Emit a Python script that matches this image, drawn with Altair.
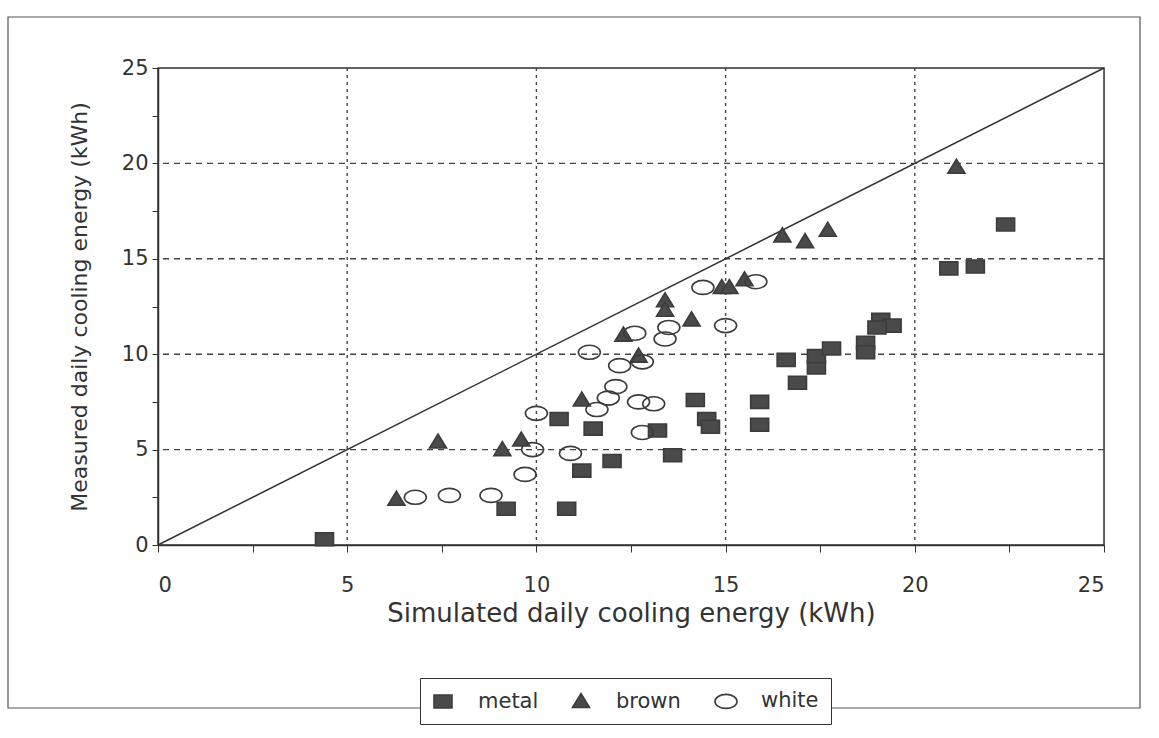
import altair as alt
import pandas as pd

# ---- data ----
metal_x = [4.4, 9.2, 10.8, 10.6, 11.5, 11.2, 12.0, 13.2, 13.6, 14.2, 14.5, 14.6, 15.9, 15.9,
           16.6, 16.9, 17.4, 17.4, 17.8, 18.7, 18.7, 19.1, 19.4, 19.0, 20.9, 21.6, 22.4]
metal_y = [0.3, 1.9, 1.9, 6.6, 6.1, 3.9, 4.4, 6.0, 4.7, 7.6, 6.6, 6.2, 7.5, 6.3,
           9.7, 8.5, 9.3, 9.9, 10.3, 10.6, 10.1, 11.8, 11.5, 11.4, 14.5, 14.6, 16.8]

brown_x = [6.3, 7.4, 9.1, 9.6, 11.2, 12.7, 12.3, 13.4, 13.4, 14.1, 14.9, 15.1, 15.5,
           16.5, 17.1, 17.7, 21.1]
brown_y = [2.4, 5.4, 5.0, 5.5, 7.6, 9.9, 11.0, 12.8, 12.3, 11.8, 13.5, 13.5, 13.9,
           16.2, 15.9, 16.5, 19.8]

white_x = [6.8, 7.7, 8.8, 9.7, 9.9, 10.9, 10.0, 11.6, 11.9, 12.1, 12.2, 12.8, 11.4,
           12.7, 13.1, 12.8, 13.5, 13.4, 12.6, 14.4, 15.8, 15.0]
white_y = [2.5, 2.6, 2.6, 3.7, 5.0, 4.8, 6.9, 7.1, 7.7, 8.3, 9.4, 9.6, 10.1,
           7.5, 7.4, 5.9, 11.4, 10.8, 11.1, 13.5, 13.8, 11.5]

series = ["metal", "brown", "white"]
tick_values = [0, 2.5, 5, 7.5, 10, 12.5, 15, 17.5, 20, 22.5, 25]
grid_values = [5, 10, 15, 20]
diag_x = [0, 25]
diag_y = [0, 25]
frame_lo = [0]
frame_hi = [25]

rows = []
for name, xs, ys in (("metal", metal_x, metal_y), ("brown", brown_x, brown_y), ("white", white_x, white_y)):
    rows += [{"sim": a, "meas": b, "roof": name} for a, b in zip(xs, ys)]
pts = pd.DataFrame(rows)

FONT = "DejaVu Sans"
INK = "#333333"
DOM = [0, 25]
XT = "Simulated daily cooling energy (kWh)"
YT = "Measured daily cooling energy (kWh)"

sq = "M-0.9,-0.65H0.9V0.65H-0.9Z"
tri = "M-0.85,0.6L0.85,0.6L0,-0.8Z"
ell = "M-1.1,0A1.1,0.7,0,1,0,1.1,0A1.1,0.7,0,1,0,-1.1,0Z"

xscale = alt.Scale(domain=DOM, nice=False, zero=False)
yscale = alt.Scale(domain=DOM, nice=False, zero=False)

legend = alt.Legend(
    title=None, orient="none", legendX=262, legendY=610, direction="horizontal",
    labelFont=FONT, labelFontSize=21, labelColor=INK, symbolSize=400,
    symbolStrokeWidth=1.6, strokeColor=INK,
    fillColor="white", padding=12, columnPadding=30, labelOffset=24,
)

x_axis = alt.Axis(
    values=tick_values, labelExpr="datum.value % 5 == 0 ? datum.label : ''",
    grid=False, tickSize=7, tickColor=INK, domainColor=INK, domainWidth=1.5, labelPadding=22,
    labelFont=FONT, labelFontSize=21, labelColor=INK,
    title=XT, titleFont=FONT, titleFontSize=26,
    titleFontWeight="normal", titleColor=INK, titlePadding=5,
)
y_axis = alt.Axis(
    values=tick_values, labelExpr="datum.value % 5 == 0 ? datum.label : ''",
    grid=False, tickSize=6, tickColor=INK, domainColor=INK, domainWidth=1.5, labelPadding=4,
    labelFont=FONT, labelFontSize=21, labelColor=INK,
    title=YT, titleFont=FONT, titleFontSize=22,
    titleFontWeight="normal", titleColor=INK, titlePadding=30,
)

outer = alt.Chart(pd.DataFrame({"k": [0]})).mark_rect(
    fillOpacity=0, stroke="#555555", strokeWidth=1.2
).encode(x=alt.value(-150), x2=alt.value(982), y=alt.value(-51), y2=alt.value(640))

plotbox = alt.Chart(pd.DataFrame({"lo": frame_lo, "hi": frame_hi})).mark_rect(
    fillOpacity=0, stroke=INK, strokeWidth=1.5
).encode(
    x=alt.X("lo:Q", scale=xscale, axis=x_axis), x2="hi:Q",
    y=alt.Y("lo:Q", scale=yscale, axis=y_axis), y2="hi:Q",
)

grid_v = alt.Chart(pd.DataFrame({"g": grid_values})).mark_rule(
    color="#444444", strokeDash=[3, 4], strokeWidth=1.4
).encode(x=alt.X("g:Q", scale=xscale, axis=x_axis))

grid_h = alt.Chart(pd.DataFrame({"g": grid_values})).mark_rule(
    color="#444444", strokeDash=[6, 5], strokeWidth=1.4
).encode(y=alt.Y("g:Q", scale=yscale, axis=y_axis))

diag = alt.Chart(pd.DataFrame({"dx": diag_x, "dy": diag_y})).mark_line(
    color=INK, strokeWidth=1.5
).encode(x=alt.X("dx:Q", scale=xscale, axis=x_axis), y=alt.Y("dy:Q", scale=yscale, axis=y_axis))

points = alt.Chart(pts).mark_point(
    size=400, filled=False, strokeWidth=1.6, opacity=1
).encode(
    x=alt.X("sim:Q", scale=xscale, axis=x_axis),
    y=alt.Y("meas:Q", scale=yscale, axis=y_axis),
    shape=alt.Shape("roof:N", scale=alt.Scale(domain=series, range=[sq, tri, ell]), legend=legend),
    fill=alt.Fill("roof:N", scale=alt.Scale(domain=series, range=["#4a4a4a", "#4a4a4a", "transparent"]), legend=legend),
    stroke=alt.Stroke("roof:N", scale=alt.Scale(domain=series, range=["#3c3c3c", "#3c3c3c", "#3c3c3c"]), legend=legend),
)

chart = alt.layer(outer, plotbox, grid_v, grid_h, diag, points).properties(
    width=946, height=477,
    padding={"left": 158, "top": 68, "right": 55, "bottom": 193},
    autosize="none",
).configure_view(stroke=None).configure(background="white")

chart.save("out.html", embed_options={"renderer": "svg", "actions": False})
